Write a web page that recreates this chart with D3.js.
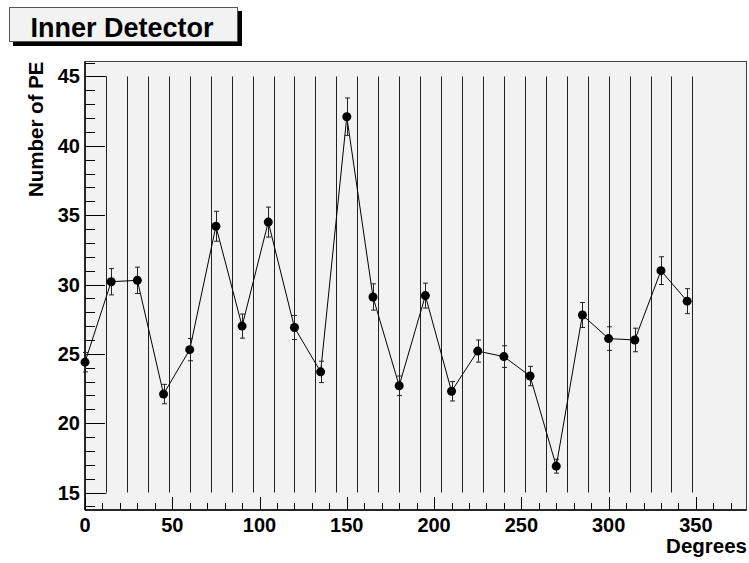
<!DOCTYPE html>
<html>
<head>
<meta charset="utf-8">
<script src="https://cdn.jsdelivr.net/npm/d3@7"></script>
<style>
  body { margin: 0; background: #fff; }
  svg { display: block; font-family: "Liberation Sans", Arial, sans-serif; font-weight: bold; }
</style>
</head>
<body>
<svg id="chart" width="749" height="563"></svg>
<script>
// angle of each measurement (degrees)
var degrees = [0, 15, 30, 45, 60, 75, 90, 105, 120, 135, 150, 165,
               180, 195, 210, 225, 240, 255, 270, 285, 300, 315, 330, 345];
// mean number of photo electrons
var numPE = [24.4, 30.2, 30.3, 22.1, 25.3, 34.2, 27.0, 34.5, 26.9, 23.7, 42.1, 29.1,
             22.7, 29.2, 22.3, 25.2, 24.8, 23.4, 16.9, 27.8, 26.1, 26.0, 31.0, 28.8];
// error on each point
var errPE = [0.7, 0.95, 0.95, 0.7, 0.8, 1.08, 0.87, 1.08, 0.87, 0.77, 1.35, 0.95,
             0.7, 0.9, 0.7, 0.8, 0.78, 0.7, 0.5, 0.9, 0.85, 0.85, 1.0, 0.9];
var xTicks = [0, 50, 100, 150, 200, 250, 300, 350];
var yTicks = [15, 20, 25, 30, 35, 40, 45];
var titleText = "Inner Detector";
var xTitle = "Degrees";
var yTitle = "Number of PE";

var svg = d3.select("#chart");
var frameL = 85, frameR = 746.5, frameT = 61.5, frameB = 510;

var x = d3.scaleLinear().domain([0, 379]).range([frameL, frameR]);
var y = d3.scaleLinear().domain([13.74, 46.08]).range([frameB, frameT]);

// frame
svg.append("rect")
    .attr("x", frameL).attr("y", frameT)
    .attr("width", frameR - frameL).attr("height", frameB - frameT)
    .attr("fill", "#f2f2f2").attr("stroke", "#444").attr("stroke-width", 1);

// vertical reference lines every 12 degrees
var gridDeg = d3.range(12, 349, 12);
svg.append("g").selectAll("line").data(gridDeg).enter().append("line")
    .attr("x1", function(d) { return Math.round(x(d)) + 0.5; })
    .attr("x2", function(d) { return Math.round(x(d)) + 0.5; })
    .attr("y1", y(45)).attr("y2", y(15))
    .attr("stroke", "#222").attr("stroke-width", 1);
[45, 15].forEach(function(v) {
    svg.append("line")
        .attr("x1", x(0)).attr("x2", Math.round(x(12)) + 0.5)
        .attr("y1", Math.round(y(v)) + 0.5).attr("y2", Math.round(y(v)) + 0.5)
        .attr("stroke", "#222").attr("stroke-width", 1);
});

// y axis ticks (inside, pointing right)
var yAxisG = svg.append("g");
d3.range(14, 47, 1).forEach(function(v) {
    var major = v % 5 === 0;
    var py = Math.round(y(v)) + 0.5;
    yAxisG.append("line")
        .attr("x1", frameL).attr("x2", frameL + (major ? 20 : 10))
        .attr("y1", py).attr("y2", py)
        .attr("stroke", "#000").attr("stroke-width", 1);
});
yAxisG.selectAll("text").data(yTicks).enter().append("text")
    .attr("x", 80).attr("y", function(d) { return y(d) + 7; })
    .attr("text-anchor", "end").attr("font-size", 20)
    .text(function(d) { return d; });

// x axis ticks (pointing up)
var xAxisG = svg.append("g");
d3.range(0, 371, 10).forEach(function(v) {
    var major = v % 50 === 0;
    var px = Math.round(x(v)) + 0.5;
    xAxisG.append("line")
        .attr("x1", px).attr("x2", px)
        .attr("y1", frameB).attr("y2", frameB - (major ? 13 : 7))
        .attr("stroke", "#000").attr("stroke-width", 1);
});
xAxisG.selectAll("text").data(xTicks).enter().append("text")
    .attr("x", function(d) { return x(d); }).attr("y", 532)
    .attr("text-anchor", "middle").attr("font-size", 20)
    .text(function(d) { return d; });

// axis lines
svg.append("line").attr("x1", frameL).attr("x2", frameR).attr("y1", frameB).attr("y2", frameB)
    .attr("stroke", "#000").attr("stroke-width", 1.5);
svg.append("line").attr("x1", frameL).attr("x2", frameL).attr("y1", frameT).attr("y2", frameB)
    .attr("stroke", "#000").attr("stroke-width", 1.5);

// axis titles
svg.append("text").attr("x", 747).attr("y", 553)
    .attr("text-anchor", "end").attr("font-size", 20.5).text(xTitle);
svg.append("text").attr("transform", "translate(43," + frameT + ") rotate(-90)")
    .attr("text-anchor", "end").attr("font-size", 20.5).text(yTitle);

// data
var pts = degrees.map(function(d, i) { return { deg: d, v: numPE[i], e: errPE[i] }; });

var line = d3.line().x(function(d) { return x(d.deg); }).y(function(d) { return y(d.v); });
svg.append("path").datum(pts).attr("d", line)
    .attr("fill", "none").attr("stroke", "#000").attr("stroke-width", 1);

var eb = svg.append("g").attr("stroke", "#222").attr("stroke-width", 1);
pts.forEach(function(p) {
    var px = Math.round(x(p.deg)) + 0.5;
    eb.append("line").attr("x1", px).attr("x2", px)
        .attr("y1", y(p.v + p.e)).attr("y2", y(p.v - p.e));
    [p.v + p.e, p.v - p.e].forEach(function(v) {
        eb.append("line").attr("x1", px - 2.5).attr("x2", px + 2.5)
            .attr("y1", y(v)).attr("y2", y(v));
    });
});

svg.append("g").selectAll("circle").data(pts).enter().append("circle")
    .attr("cx", function(d) { return x(d.deg); })
    .attr("cy", function(d) { return y(d.v); })
    .attr("r", 4.5).attr("fill", "#000");

// title box with shadow
svg.append("rect").attr("x", 13).attr("y", 11).attr("width", 229).attr("height", 35).attr("fill", "#000");
svg.append("rect").attr("x", 9.5).attr("y", 7.5).attr("width", 228).attr("height", 34)
    .attr("fill", "#f2f2f2").attr("stroke", "#555").attr("stroke-width", 1);
svg.append("text").attr("x", 122).attr("y", 36.5)
    .attr("text-anchor", "middle").attr("font-size", 27).text(titleText);
</script>
</body>
</html>
